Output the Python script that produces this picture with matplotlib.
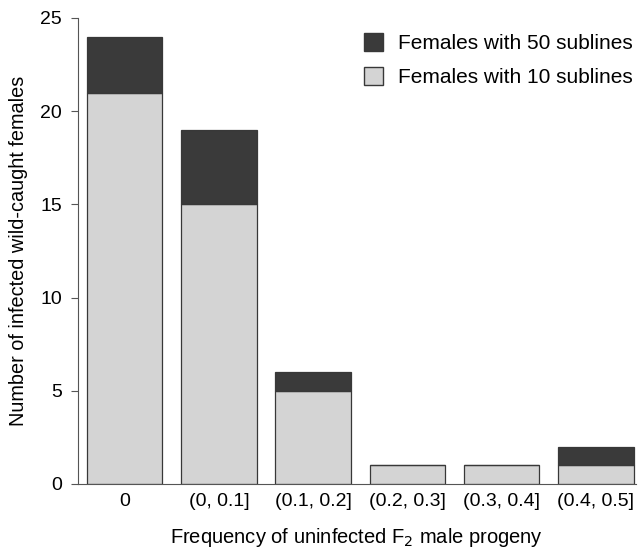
import numpy as np
import matplotlib.pyplot as plt
from matplotlib.patches import Patch

categories = ['0', '(0, 0.1]', '(0.1, 0.2]', '(0.2, 0.3]', '(0.3, 0.4]', '(0.4, 0.5]']
ten_sublines = [21, 15, 5, 1, 1, 1]
fifty_sublines = [3, 4, 1, 0, 0, 1]

plt.rcParams['font.family'] = ['Liberation Sans', 'DejaVu Sans']

fig = plt.figure(figsize=(6.39, 5.55), dpi=100)
ax = fig.add_axes([77.5 / 639, 71 / 555, 558 / 639, 466 / 555])

light = '#d4d4d4'
dark = '#3a3a3a'
edge = '#383838'

x = np.arange(len(categories))
ax.bar(x, ten_sublines, width=0.8, color=light, edgecolor=edge, linewidth=0.9)
ax.bar(x, fifty_sublines, width=0.8, bottom=ten_sublines, color=dark, edgecolor=edge, linewidth=0.9)

ax.set_xlim(-0.5, 5.42)
ax.set_ylim(0, 25)
ax.set_yticks([0, 5, 10, 15, 20, 25])
ax.set_xticks(x)
ax.set_xticklabels(categories, fontsize=14)
ax.tick_params(axis='x', length=0, pad=6.8)
ax.tick_params(axis='y', labelsize=14, length=5, width=0.8, color='#555555', pad=6)

for s in ['top', 'right']:
    ax.spines[s].set_visible(False)
ax.spines['left'].set_color('#555555')
ax.spines['bottom'].set_color('#555555')
ax.spines['left'].set_linewidth(0.8)
ax.spines['bottom'].set_linewidth(0.8)

ax.set_ylabel('Number of infected wild-caught females', fontsize=14.3, labelpad=9)
ax.set_xlabel('Frequency of uninfected F$_2$ male progeny', fontsize=14.5, labelpad=11)

handles = [Patch(facecolor=dark, edgecolor=edge, label='Females with 50 sublines'),
           Patch(facecolor=light, edgecolor=edge, label='Females with 10 sublines')]
ax.legend(handles=handles, loc='upper left', bbox_to_anchor=(364 / 639, 522 / 555),
          bbox_transform=fig.transFigure, frameon=False, borderpad=0, borderaxespad=0,
          fontsize=15, handlelength=0.92, handleheight=0.92, handletextpad=0.72,
          labelspacing=0.68)

fig.savefig('out.png', dpi=100)
